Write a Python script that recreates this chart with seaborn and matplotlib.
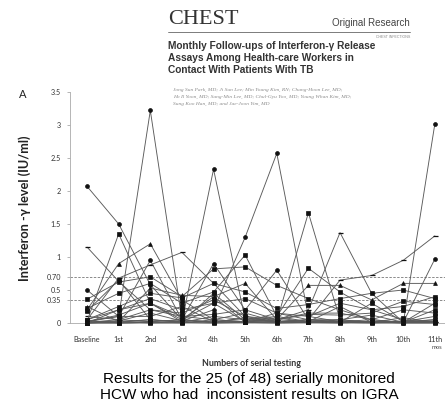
import numpy as np
import pandas as pd
import matplotlib
matplotlib.use("Agg")
import matplotlib.pyplot as plt
import seaborn as sns

# ---- data ----
time_labels = ["Baseline", "1st", "2nd", "3rd", "4th", "5th", "6th", "7th", "8th", "9th", "10th", "11th"]
y_ticks = [0, 0.35, 0.5, 0.70, 1, 1.5, 2, 2.5, 3, 3.5]
y_tick_labels = ["0", "0.35", "0.5", "0.70", "1", "1.5", "2", "2.5", "3", "3.5"]
cutoffs = [0.70, 0.35]

hcw01 = [2.07, 1.50, 0.58, 0.05, 0.30, 0.02, 0.01, 0.05, 0.02, 0.01, 0.02, 0.03]
hcw02 = [0.02, 0.10, 3.22, 0.05, 0.01, 0.08, 0.02, 0.01, 0.03, 0.01, 0.01, 0.02]
hcw03 = [0.05, 0.20, 0.30, 0.02, 2.33, 0.05, 0.02, 0.01, 0.01, 0.02, 0.01, 0.01]
hcw04 = [0.01, 0.03, 0.15, 0.03, 0.20, 1.30, 2.57, 0.10, 0.02, 0.01, 0.02, 0.01]
hcw05 = [0.02, 0.01, 0.05, 0.01, 0.10, 0.05, 0.03, 1.67, 0.05, 0.01, 0.03, 0.02]
hcw06 = [0.10, 0.05, 0.02, 0.05, 0.01, 0.02, 0.05, 0.20, 1.37, 0.45, 0.01, 0.02]
hcw07 = [0.00, 0.02, 0.05, 0.01, 0.02, 0.01, 0.02, 0.01, 0.03, 0.01, 0.00, 3.02]
hcw08 = [1.15, 0.63, 0.20, 0.10, 0.05, 0.02, 0.01, 0.05, 0.65, 0.72, 0.95, 1.32]
hcw09 = [0.03, 1.35, 0.30, 0.05, 0.40, 0.01, 0.02, 0.01, 0.02, 0.05, 0.01, 0.20]
hcw10 = [0.20, 0.90, 1.20, 0.35, 0.05, 0.15, 0.02, 0.01, 0.05, 0.01, 0.01, 0.05]
hcw11 = [0.05, 0.68, 0.88, 1.07, 0.60, 0.10, 0.05, 0.02, 0.01, 0.02, 0.01, 0.01]
hcw12 = [0.50, 0.10, 0.95, 0.05, 0.90, 0.20, 0.80, 0.05, 0.01, 0.02, 0.01, 0.97]
hcw13 = [0.36, 0.62, 0.70, 0.40, 0.82, 0.85, 0.57, 0.37, 0.20, 0.05, 0.01, 0.01]
hcw14 = [0.22, 0.45, 0.60, 0.30, 0.47, 1.03, 0.10, 0.83, 0.47, 0.20, 0.05, 0.01]
hcw15 = [0.25, 0.02, 0.53, 0.42, 0.40, 0.60, 0.05, 0.57, 0.57, 0.35, 0.60, 0.60]
hcw16 = [0.05, 0.25, 0.45, 0.38, 0.60, 0.47, 0.22, 0.28, 0.37, 0.45, 0.50, 0.37]
hcw17 = [0.00, 0.20, 0.37, 0.20, 0.30, 0.37, 0.15, 0.10, 0.30, 0.20, 0.25, 0.40]
hcw18 = [0.02, 0.12, 0.30, 0.10, 0.13, 0.20, 0.05, 0.13, 0.12, 0.15, 0.33, 0.28]
hcw19 = [0.01, 0.05, 0.20, 0.15, 0.35, 0.10, 0.02, 0.05, 0.05, 0.12, 0.01, 0.30]
hcw20 = [0.18, 0.65, 0.05, 0.02, 0.45, 0.05, 0.10, 0.02, 0.25, 0.01, 0.02, 0.10]
hcw21 = [0.00, 0.00, 0.01, 0.00, 0.05, 0.02, 0.05, 0.15, 0.15, 0.05, 0.20, 0.15]
hcw22 = [0.03, 0.10, 0.10, 0.25, 0.02, 0.02, 0.15, 0.05, 0.01, 0.30, 0.02, 0.05]
hcw23 = [0.01, 0.01, 0.02, 0.05, 0.01, 0.08, 0.01, 0.02, 0.02, 0.01, 0.08, 0.01]
hcw24 = [0.04, 0.00, 0.01, 0.02, 0.01, 0.02, 0.08, 0.01, 0.01, 0.00, 0.01, 0.01]
hcw25 = [0.00, 0.02, 0.00, 0.01, 0.00, 0.01, 0.00, 0.01, 0.00, 0.02, 0.00, 0.00]

series = [hcw01, hcw02, hcw03, hcw04, hcw05, hcw06, hcw07, hcw08, hcw09, hcw10,
          hcw11, hcw12, hcw13, hcw14, hcw15, hcw16, hcw17, hcw18, hcw19, hcw20,
          hcw21, hcw22, hcw23, hcw24, hcw25]
series_markers = ["o", "o", "o", "o", "s", "_", "o", "_", "s", "^",
                  "_", "o", "s", "s", "^", "s", "s", "s", "s", "s",
                  "s", "s", "s", "s", "s"]

# ---- figure ----
sns.set_theme(style="white")
plt.rcParams["font.family"] = ["Lato", "DejaVu Sans"]

W, H = 445, 415
fig = plt.figure(figsize=(W / 100, H / 100), dpi=100)

def fx(px):
    return px / W

def fy(py):
    return 1 - py / H

ax = fig.add_axes([fx(70), fy(323), fx(445) - fx(70), fy(92) - fy(323)])

rows = []
for i, vals in enumerate(series):
    for t, v in enumerate(vals):
        rows.append({"hcw": f"HCW{i + 1}", "t": t, "v": v})
df = pd.DataFrame(rows)

for i, mk in enumerate(series_markers):
    sub = df[df["hcw"] == f"HCW{i + 1}"]
    filled = mk != "_"
    sns.lineplot(data=sub, x="t", y="v", ax=ax, color="#5a5a5a", linewidth=0.65,
                 marker=mk, markersize=2.8 if filled else 3.6,
                 markerfacecolor="#111111", markeredgecolor="#111111",
                 markeredgewidth=0.5 if filled else 0.9,
                 clip_on=False, zorder=3, legend=False, estimator=None)

for c in cutoffs:
    ax.axhline(c, color="#8a8a8a", linestyle=(0, (2.5, 1.5)), linewidth=0.7, zorder=1)

ax.set_xlim(-0.54, 11.32)
ax.set_ylim(0, 3.5)
ax.set_yticks(y_ticks)
ax.set_yticklabels(y_tick_labels)
ax.set_xticks(range(len(time_labels)))
ax.set_xticklabels(time_labels)
ax.tick_params(axis="y", labelsize=5.2, colors="#333333", length=2.5, width=0.5,
               direction="out", left=True, pad=4, color="#999999")
ax.tick_params(axis="x", labelsize=5.2, colors="#333333", length=0, pad=9)
for s in ["top", "right"]:
    ax.spines[s].set_visible(False)
for s in ["left", "bottom"]:
    ax.spines[s].set_color("#aaaaaa")
    ax.spines[s].set_linewidth(0.6)
ax.set_xlabel("")
ax.set_ylabel("")
ax.patch.set_alpha(0)

# axis titles
fig.text(fx(25), fy(208), "Interferon -\u03b3 level (IU/ml)", rotation=90,
         ha="center", va="center", fontsize=9.2, fontweight="bold", color="#222222")
fig.text(fx(251), fy(363), "Numbers of serial testing", ha="center", va="center",
         fontsize=6.4, fontweight="bold", color="#333333")
fig.text(fx(437), fy(347), "mos", ha="center", va="center", fontsize=4.2, color="#444444")
fig.text(fx(23), fy(94), "A", ha="center", va="center", fontsize=8, color="#222222")

# header
fig.text(fx(168), fy(19), "CHEST", family=["Liberation Serif"], fontsize=16,
         ha="left", va="center", color="#333333")
fig.text(fx(410), fy(23), "Original Research", family=["Liberation Sans"], fontsize=7,
         ha="right", va="center", color="#444444")
fig.add_artist(plt.Line2D([fx(168), fx(410)], [fy(32), fy(32)], color="#666666",
                          linewidth=0.6, transform=fig.transFigure))
fig.text(fx(410), fy(37), "CHEST INFECTIONS", family=["Liberation Sans"], fontsize=2.6,
         ha="right", va="center", color="#888888")
title_lines = ["Monthly Follow-ups of Interferon-\u03b3 Release",
               "Assays Among Health-care Workers in",
               "Contact With Patients With TB"]
for k, line in enumerate(title_lines):
    fig.text(fx(168), fy(46 + 12 * k), line, family=["Liberation Sans"], fontsize=7.3,
             fontweight="bold", ha="left", va="center", color="#333333")
author_lines = ["Jong Sun Park, MD; Ji Sun Lee; Min Young Kim, RN; Chang-Hoon Lee, MD;",
                "Ho Il Yoon, MD; Sang-Min Lee, MD; Chul-Gyu Yoo, MD; Young Whan Kim, MD;",
                "Sung Koo Han, MD; and Jae-Joon Yim, MD"]
for k, line in enumerate(author_lines):
    fig.text(fx(173), fy(90 + 7 * k), line, family=["Liberation Serif"], fontsize=3.9,
             style="italic", ha="left", va="center", color="#8a8a8a")

# caption
fig.text(fx(249), fy(379), "Results for the 25 (of 48) serially monitored",
         family=["Liberation Sans"], fontsize=11, ha="center", va="center", color="black")
fig.text(fx(249), fy(395), "HCW who had  inconsistent results on IGRA",
         family=["Liberation Sans"], fontsize=11, ha="center", va="center", color="black")

fig.savefig("out.png", dpi=100)
